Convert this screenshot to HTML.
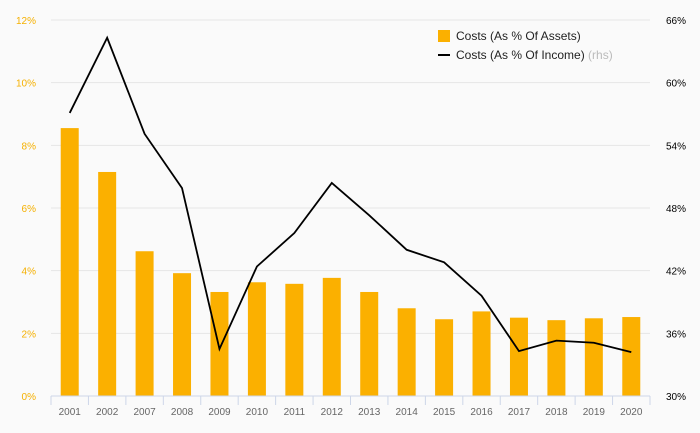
<!DOCTYPE html>
<html><head><meta charset="utf-8"><style>
body{margin:0;background:#fafafa;font-family:"Liberation Sans","DejaVu Sans",sans-serif}
svg{display:block}
</style></head><body>
<svg id="c" width="700" height="433"></svg>
<script>
const categories=["2001","2002","2007","2008","2009","2010","2011","2012","2013","2014","2015","2016","2017","2018","2019","2020"];
const assetCosts=[8.55,7.15,4.62,3.92,3.32,3.63,3.58,3.77,3.32,2.8,2.45,2.7,2.5,2.42,2.48,2.52];
const incomeCosts=[57.1,64.3,55.1,49.9,34.5,42.4,45.6,50.4,47.3,44.0,42.8,39.6,34.3,35.3,35.1,34.2];
const leftTicks=[0,2,4,6,8,10,12];
const rightTicks=[30,36,42,48,54,60,66];
const NS="http://www.w3.org/2000/svg";
const svg=document.getElementById('c');
const X0=51,X1=650,Y0=396,Y1=20;
const step=(X1-X0)/categories.length;
const xc=i=>X0+step*(i+0.5);
const yL=v=>Y0-(v-0)/(12-0)*(Y0-Y1);
const yR=v=>Y0-(v-30)/(66-30)*(Y0-Y1);
function mk(t,a,txt){const e=document.createElementNS(NS,t);for(const k in a)e.setAttribute(k,a[k]);if(txt!=null)e.textContent=txt;svg.appendChild(e);return e;}
leftTicks.forEach((t,i)=>{
 if(t>0){const g=mk('line',{x1:X0,x2:X1,y1:yL(t),y2:yL(t),stroke:'#e6e6e6','stroke-width':1});
 
 }
 const l=mk('text',{x:36,y:yL(t)+4,'text-anchor':'end','font-size':10,fill:'#f5b000'},t+'%');
 
 
 const r=mk('text',{x:686,y:yR(rightTicks[i])+4,'text-anchor':'end','font-size':10,fill:'#000'},rightTicks[i]+'%');
 
 
});
categories.forEach((c,i)=>{
 const b=mk('rect',{x:xc(i)-9,y:yL(assetCosts[i]),width:18,height:Y0-yL(assetCosts[i]),fill:'#fbb000'});
 
 
 const t=mk('text',{x:xc(i),y:415,'text-anchor':'middle','font-size':10,fill:'#666'},c);
 
 
});
for(let i=0;i<=categories.length;i++){
 const tk=mk('line',{x1:X0+step*i,x2:X0+step*i,y1:Y0,y2:Y0+9,stroke:'#cdd6e8'});
 
 
}
const ax=mk('line',{x1:X0,x2:X1,y1:Y0,y2:Y0,stroke:'#cdd6e8'});


const ln=mk('polyline',{points:incomeCosts.map((v,i)=>xc(i)+','+yR(v)).join(' '),fill:'none',stroke:'#000','stroke-width':1.8});


const lg1=mk('rect',{x:438,y:30,width:12,height:12,fill:'#fbb000'});


const lt1=mk('text',{x:456,y:40,'font-size':12,fill:'#222'},'Costs (As % Of Assets)');


const lg2=mk('line',{x1:438,x2:450,y1:55,y2:55,stroke:'#000','stroke-width':2});


const lt2=mk('text',{x:456,y:59,'font-size':12,fill:'#222'},'Costs (As % Of Income) ');


const ts=document.createElementNS(NS,'tspan');ts.setAttribute('fill','#bbb');ts.textContent='(rhs)';lt2.appendChild(ts);
</script>
</body></html>
